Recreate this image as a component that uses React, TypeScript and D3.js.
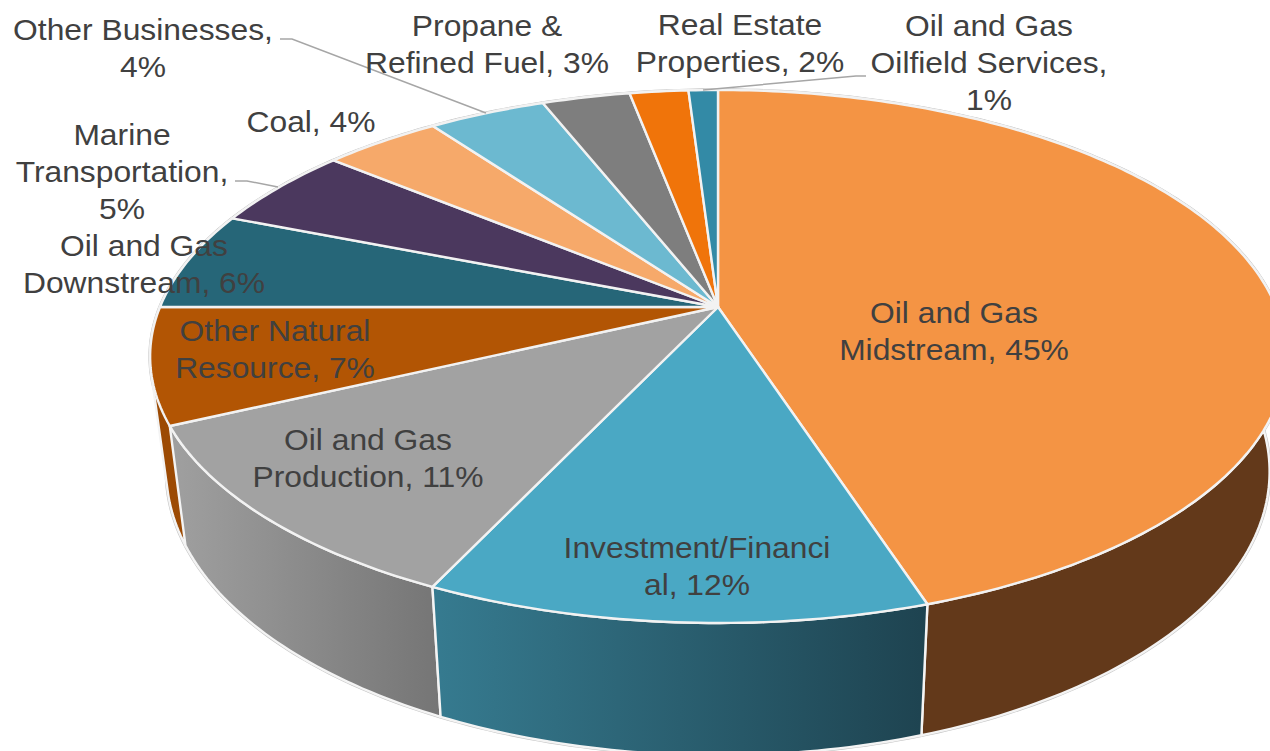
import React from "react";
import * as d3 from "d3";

const categories = [
  "Oil and Gas Midstream", "Investment/Financial", "Oil and Gas Production", "Other Natural Resource",
  "Oil and Gas Downstream", "Marine Transportation", "Coal", "Other Businesses",
  "Propane & Refined Fuel", "Real Estate Properties", "Oil and Gas Oilfield Services",
];
const values = [45, 12, 11, 7, 6, 5, 4, 4, 3, 2, 1];
const topColors = ["#F49444", "#4AA8C4", "#A2A2A2", "#B25504", "#266678", "#4B385E", "#F6A96A", "#6CB9D0", "#7E7E7E", "#F0740A", "#338AA6"];
const wallFrom = ["#63391A", "#367B90", "#A0A0A0", "#9C4A03", "#1C4D5A", "#382A47", "#B87F50", "#51899C", "#5F5F5F", "#B45607", "#26677C"];
const wallTo = ["#63391A", "#1E4350", "#757575", "#9C4A03", "#1C4D5A", "#382A47", "#B87F50", "#51899C", "#5F5F5F", "#B45607", "#26677C"];
const labelLines = [
  ["Oil and Gas", "Midstream, 45%"],
  ["Investment/Financi", "al, 12%"],
  ["Oil and Gas", "Production, 11%"],
  ["Other Natural", "Resource, 7%"],
  ["Oil and Gas", "Downstream, 6%"],
  ["Marine", "Transportation,", "5%"],
  ["Coal, 4%"],
  ["Other Businesses,", "4%"],
  ["Propane &", "Refined Fuel, 3%"],
  ["Real Estate", "Properties, 2%"],
  ["Oil and Gas", "Oilfield Services,", "1%"],
];
const labelX = [954, 697, 368, 275, 144, 122, 311, 143, 487, 740, 989];
const labelY = [323, 558, 450, 341, 256, 145, 132, 40, 36, 35, 36];
const leaders: [number, number][][] = [
  [[280, 39], [292, 39], [486, 113]],
  [[235, 181], [247, 181], [278, 187]],
  [[866, 76], [856, 76], [703, 90]],
];

const W = 1270, H = 751;
const CX = 718;
const PERSP = -0.1857;
const TEXT_STRETCH = 1.06;
const top = { s: 558, a: 200.3, b: 307 };
const bottom = { s: 542, a: 196, b: 419 };

type Plane = { s: number; a: number; b: number };
// Perspective projection of a unit circle point at clockwise angle th from 12 o'clock.
const project = (p: Plane, th: number): [number, number] => {
  const t = -Math.cos(th);
  const u = Math.sin(th);
  const d = 1 + PERSP * t;
  return [CX + (p.s * u) / d, (p.a * t + p.b) / d];
};
const arcPts = (p: Plane, a0: number, a1: number) => {
  const n = Math.max(4, Math.ceil((a1 - a0) * 60));
  return d3.range(n + 1).map((i) => project(p, a0 + ((a1 - a0) * i) / n));
};

const line = d3.line<[number, number]>();
const pie = d3.pie<number>().sort(null).value((d) => d);
const slices = pie(values);

export default function App() {
  const faces = slices.map((s) => {
    const pts = arcPts(top, s.startAngle, s.endAngle);
    return line([[CX, top.b], ...pts])! + "Z";
  });
  const walls = slices.map((s, i) => {
    const t = arcPts(top, s.startAngle, s.endAngle);
    const b = arcPts(bottom, s.startAngle, s.endAngle).reverse();
    const all = [...t, ...b];
    const ext = d3.extent(all.filter((q) => q[1] > 300), (q) => q[0]) as [number | undefined, number | undefined];
    // The sliver on the left edge follows the silhouette, so it takes the hull of both arcs.
    const outline = i === 3 ? (d3.polygonHull(all) as [number, number][]) : all;
    return { d: line(outline)! + "Z", x0: ext[0] ?? 0, x1: ext[1] ?? 1 };
  });
  const order = d3.range(values.length).sort(
    (i, j) =>
      d3.ascending(
        -Math.cos((slices[i].startAngle + slices[i].endAngle) / 2) - (i === 0 ? 2 : 0),
        -Math.cos((slices[j].startAngle + slices[j].endAngle) / 2) - (j === 0 ? 2 : 0)
      )
  );
  const fullBottom = line(arcPts(bottom, 0, 2 * Math.PI))! + "Z";
  const fullTop = line(arcPts(top, 0, 2 * Math.PI))! + "Z";

  return (
    <svg width={W} height={H} viewBox={`0 0 ${W} ${H}`}
      style={{ position: "absolute", left: 0, top: 0, display: "block", background: "#fff" }}>
      <defs>
        {categories.map((c, i) => (
          <linearGradient key={c} id={`wall${i}`} gradientUnits="userSpaceOnUse"
            x1={walls[i].x0} x2={walls[i].x1} y1={0} y2={0}>
            <stop offset="0" stopColor={wallFrom[i]} />
            <stop offset="1" stopColor={wallTo[i]} />
          </linearGradient>
        ))}
      </defs>
      <path d={fullBottom} fill="none" stroke="#c4c4c4" strokeWidth={3.5} />
      <path d={fullTop} fill="none" stroke="#c4c4c4" strokeWidth={3.5} />
      {order.map((i) => (
        <path key={categories[i]} d={walls[i].d} fill={`url(#wall${i})`} stroke="#f4f4f4" strokeWidth={2.4} strokeLinejoin="round" />
      ))}
      {faces.map((d, i) => (
        <path key={categories[i]} d={d} fill={topColors[i]} stroke="#f2f2f2" strokeWidth={2.4} strokeLinejoin="round" />
      ))}
      {leaders.map((l, i) => (
        <path key={i} d={line(l)!} fill="none" stroke="#a6a6a6" strokeWidth={1.5} />
      ))}
      <g fontFamily="'Liberation Sans', Arial, sans-serif" fontSize={30} fill="#404040" textAnchor="middle"
        transform={`scale(${TEXT_STRETCH},1)`}>
        {labelLines.map((lines, i) => (
          <text key={categories[i]} x={labelX[i] / TEXT_STRETCH} y={labelY[i]}>
            {lines.map((t, k) => (
              <tspan key={k} x={labelX[i] / TEXT_STRETCH} dy={k === 0 ? 0 : 36.8}>{t}</tspan>
            ))}
          </text>
        ))}
      </g>
    </svg>
  );
}
